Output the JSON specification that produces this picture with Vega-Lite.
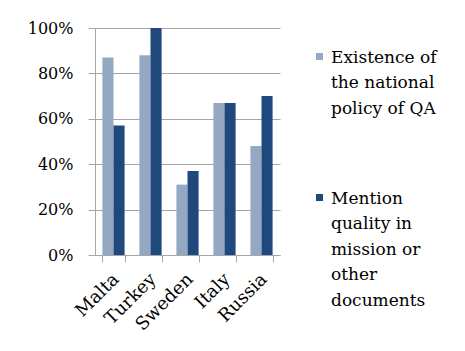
{
  "$schema": "https://vega.github.io/schema/vega-lite/v6.json",
  "width": 185,
  "height": 227,
  "autosize": "none",
  "padding": {"left": 95, "top": 28, "right": 185, "bottom": 96},
  "background": "white",
  "data": {
    "values": [
      {"country": "Malta", "series": "Existence of the national policy of QA", "value": 0.87},
      {"country": "Malta", "series": "Mention quality in mission or other documents", "value": 0.57},
      {"country": "Turkey", "series": "Existence of the national policy of QA", "value": 0.88},
      {"country": "Turkey", "series": "Mention quality in mission or other documents", "value": 1.0},
      {"country": "Sweden", "series": "Existence of the national policy of QA", "value": 0.31},
      {"country": "Sweden", "series": "Mention quality in mission or other documents", "value": 0.37},
      {"country": "Italy", "series": "Existence of the national policy of QA", "value": 0.67},
      {"country": "Italy", "series": "Mention quality in mission or other documents", "value": 0.67},
      {"country": "Russia", "series": "Existence of the national policy of QA", "value": 0.48},
      {"country": "Russia", "series": "Mention quality in mission or other documents", "value": 0.70}
    ]
  },
  "mark": {"type": "bar"},
  "encoding": {
    "x": {
      "field": "country", "type": "nominal", "sort": null,
      "scale": {"paddingInner": 0.4, "paddingOuter": 0.2},
      "axis": {
        "title": null, "labelAngle": -45, "tickBand": "extent", "tickSize": 7,
        "domainColor": "#a6a6a6", "tickColor": "#a6a6a6",
        "labelFont": "DejaVu Serif", "labelFontSize": 18, "labelColor": "#000",
        "labelPadding": 8, "labelOffset": -4
      }
    },
    "xOffset": {"field": "series", "sort": null},
    "y": {
      "field": "value", "type": "quantitative",
      "scale": {"domain": [0, 1]},
      "axis": {
        "title": null, "format": ".0%", "values": [0, 0.2, 0.4, 0.6, 0.8, 1],
        "grid": true, "gridColor": "#a6a6a6", "domainColor": "#a6a6a6", "tickColor": "#a6a6a6",
        "tickSize": 7, "labelPadding": 15,
        "labelFont": "DejaVu Serif", "labelFontSize": 16, "labelColor": "#000"
      }
    },
    "color": {
      "field": "series", "type": "nominal", "sort": null,
      "scale": {"range": ["#94a8c4", "#1f497d"]},
      "legend": {
        "title": null, "orient": "none", "legendX": 216, "legendY": 20,
        "symbolType": "square", "symbolSize": 49, "symbolStrokeWidth": 0,
        "labelFont": "DejaVu Serif", "labelFontSize": 17, "labelColor": "#000",
        "labelOffset": 3, "labelBaseline": "top", "rowPadding": 72, "labelLimit": 200,
        "labelExpr": "datum.label == 'Existence of the national policy of QA' ? [' Existence of', 'the national', 'policy of QA'] : ['Mention', 'quality in', 'mission or', 'other', 'documents']",
        "encode": {"labels": {"update": {"dy": {"value": -7}}}}
      }
    }
  },
  "config": {
    "view": {"stroke": null},
    "style": {"guide-label": {"lineHeight": 25.5}}
  }
}
